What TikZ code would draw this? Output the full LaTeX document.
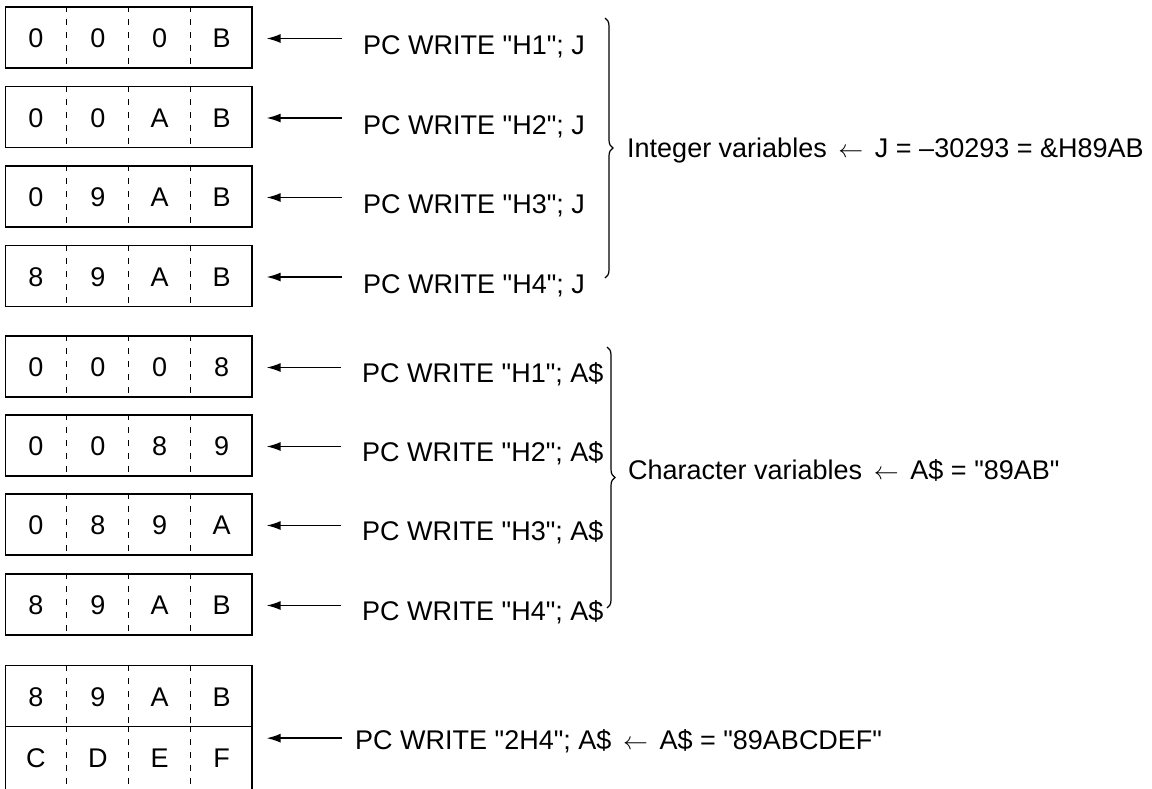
\documentclass[tikz,border=0pt]{standalone}
\usepackage{fontspec}
\setmainfont{Liberation Sans}[Ligatures=TeXOff]
\usetikzlibrary{arrows.meta,calc,decorations.pathreplacing}
\begin{document}
\begin{tikzpicture}[x=1pt,y=-1pt,
  txt/.style={font=\fontsize{27}{31}\selectfont, inner sep=0pt},
  reg/.style={draw, line width=1.3pt, minimum width=246.5pt, minimum height=61pt, inner sep=0pt},
  divline/.style={line width=1.2pt, dash pattern=on 6pt off 7pt},
  arr/.style={line width=1.4pt, -{Latex[length=14pt,width=9pt]}},
  brc/.style={line width=1.2pt, decorate, decoration={brace, amplitude=8pt}}
]
\useasboundingbox (0,0) rectangle (1152,788);

% register boxes: name / center y / four cells
\foreach \n/\y/\a/\b/\c/\d in {
  b1/37.5/0/0/0/B, b2/117/0/0/A/B, b3/196.5/0/9/A/B, b4/276/8/9/A/B,
  b5/366.5/0/0/0/8, b6/445.5/0/0/8/9, b7/524.5/0/8/9/A, b8/604.5/8/9/A/B,
  b9/696/8/9/A/B}{
  \node[reg] (\n) at (128.75,\y) {};
  \node[txt] (\n c1) at ($(\n.west)!0.125!(\n.east)+(0,1)$) {\a};
  \node[txt] (\n c2) at ($(\n.west)!0.375!(\n.east)+(0,1)$) {\b};
  \node[txt] (\n c3) at ($(\n.west)!0.625!(\n.east)+(0,1)$) {\c};
  \node[txt] (\n c4) at ($(\n.west)!0.875!(\n.east)+(0,1)$) {\d};
  \foreach \f in {0.25,0.5,0.75}
    \draw[divline] ($(\n.north west)!\f!(\n.north east)$) -- ($(\n.south west)!\f!(\n.south east)$);
}
% lower half of the double register
\node[reg, minimum height=63pt] (b10) at (128.75,758) {};
\node[txt] (b10c1) at ($(b10.west)!0.125!(b10.east)$) {C};
\node[txt] (b10c2) at ($(b10.west)!0.375!(b10.east)$) {D};
\node[txt] (b10c3) at ($(b10.west)!0.625!(b10.east)$) {E};
\node[txt] (b10c4) at ($(b10.west)!0.875!(b10.east)$) {F};
\foreach \f in {0.25,0.5,0.75}
  \draw[divline] ($(b10.north west)!\f!(b10.north east)$) -- ($(b10.south west)!\f!(b10.south east)$);

% statements
\node[txt, anchor=base west] (t1) at (363,54.5) {PC WRITE "H1"; J};
\node[txt, anchor=base west] (t2) at (363,134) {PC WRITE "H2"; J};
\node[txt, anchor=base west] (t3) at (363,213.5) {PC WRITE "H3"; J};
\node[txt, anchor=base west] (t4) at (363,293) {PC WRITE "H4"; J};
\node[txt, anchor=base west] (t5) at (362,382) {PC WRITE "H1"; A\$};
\node[txt, anchor=base west] (t6) at (362,461) {PC WRITE "H2"; A\$};
\node[txt, anchor=base west] (t7) at (362,540) {PC WRITE "H3"; A\$};
\node[txt, anchor=base west] (t8) at (362,620) {PC WRITE "H4"; A\$};
\node[txt, anchor=base west] (t9) at (355,749) {PC WRITE "2H4"; A\$ $\,\leftarrow\,$ A\$ = "89ABCDEF"};

% arrows
\foreach \i in {1,...,8}
  \draw[arr] ($(t\i.west |- b\i.east)+(-21,1)$) -- ($(b\i.east)+(14,1)$);
\coordinate (m9) at ($(b9.south east)+(0,11)$);
\draw[arr] ($(t9.west |- m9)+(-13,0)$) -- ($(m9)+(14,0)$);

% braces
\coordinate (g1a) at (605,18);
\coordinate (g1b) at (605,278);
\coordinate (g2a) at (607,347);
\coordinate (g2b) at (607,608);
\draw[brc] (g1a) -- (g1b);
\draw[brc] (g2a) -- (g2b);
\node[txt, anchor=base west] (s1) at (627,157) {Integer variables $\,\leftarrow\,$ J = –30293 = \&H89AB};
\node[txt, anchor=base west] (s2) at (628,479) {Character variables $\,\leftarrow\,$ A\$ = "89AB"};
\end{tikzpicture}
\end{document}
